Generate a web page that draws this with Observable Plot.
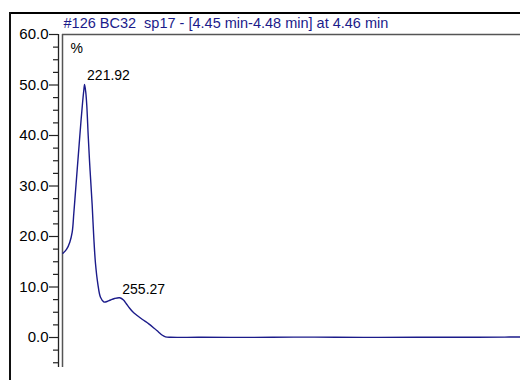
<!DOCTYPE html>
<html>
<head>
<meta charset="utf-8">
<script src="https://cdn.jsdelivr.net/npm/d3@7"></script>
<script src="https://cdn.jsdelivr.net/npm/@observablehq/plot@0.6"></script>
<style>
  html, body { margin: 0; padding: 0; background: #fff; }
  #wrap { position: relative; width: 520px; height: 380px; overflow: hidden; }
  #wrap svg { position: absolute; left: 0; top: 0; }
  .frameTop { position: absolute; left: 9px; top: 12px; width: 511px; height: 2px; background: #000; }
  .frameLeft { position: absolute; left: 9px; top: 12px; width: 2px; height: 368px; background: #111; }
</style>
</head>
<body>
<div id="wrap">
  <div class="frameTop"></div>
  <div class="frameLeft"></div>
</div>
<script>
const title = "#126 BC32  sp17 - [4.45 min-4.48 min] at 4.46 min";
const yUnit = "%";

const wavelength = [201.47, 204.79, 207.92, 210.19, 211.71, 213.32, 214.93, 216.63, 218.34, 219.95, 221.18, 221.92, 223.07, 224.02, 225.35, 226.58, 227.72, 229.14, 230.65, 232.26, 234.44, 237.0, 240.32, 243.16, 246.48, 250.27, 255.27, 258.79, 261.63, 264.48, 267.79, 271.77, 276.79, 282.76, 288.16, 291.95, 295.27, 298.58, 303.3, 330, 360, 400, 430, 460, 500, 540, 580, 620, 635];
const absorbance = [16.67, 17.43, 18.87, 20.85, 24.55, 28.91, 33.27, 37.82, 42.38, 46.34, 48.91, 50.1, 48.51, 45.94, 40.0, 35.05, 31.09, 26.14, 19.8, 14.65, 10.69, 7.98, 7.03, 7.13, 7.43, 7.72, 7.86, 7.43, 6.63, 5.84, 5.05, 4.36, 3.56, 2.71, 1.78, 1.09, 0.5, 0.14, 0.04, 0.05, 0.02, 0.04, 0.08, 0.05, 0.03, 0.05, 0.05, 0.08, 0.1];

const peakWavelength = [221.92, 255.27];
const peakValue = [50.1, 7.86];
const peakLabel = ["221.92", "255.27"];

const majorTicks = [0, 10, 20, 30, 40, 50, 60];
const minorTicks = [-5, -2.5, 2.5, 5, 7.5, 12.5, 15, 17.5, 22.5, 25, 27.5, 32.5, 35, 37.5, 42.5, 45, 47.5, 52.5, 55, 57.5];

const xDomain = [201, 635];
const yDomain = [-5.94, 60];

const spectrum = wavelength.map((w, i) => ({w, v: absorbance[i]}));
const peaks = peakWavelength.map((w, i) => ({w, v: peakValue[i], label: peakLabel[i]}));

const navy = "#1b1b8a";
const font = "'Liberation Sans', Arial, sans-serif";

const chart = Plot.plot({
  width: 520,
  height: 380,
  marginLeft: 62,
  marginRight: 0,
  marginTop: 34,
  marginBottom: 13,
  style: {fontFamily: font, background: "transparent", overflow: "visible"},
  x: {domain: xDomain, axis: null, label: null},
  y: {domain: yDomain, axis: null, label: null},
  marks: [
    Plot.ruleY([yDomain[1]], {stroke: "#555", strokeWidth: 1.3}),
    Plot.ruleX([xDomain[0]], {stroke: "#555", strokeWidth: 1.5}),
    Plot.ruleX([xDomain[0]], {stroke: "#222", strokeWidth: 1.3, dx: -4}),
    Plot.axisY({ticks: majorTicks, tickFormat: d => d.toFixed(1), label: null, tickSize: 9, tickPadding: 1, dx: -4, fontSize: 15, fill: "#000", stroke: "#222", strokeWidth: 1.2}),
    Plot.axisY({ticks: minorTicks, text: null, label: null, tickSize: 5, dx: -4, stroke: "#222", strokeWidth: 1.2}),
    Plot.line(spectrum, {x: "w", y: "v", stroke: navy, strokeWidth: 1.4, curve: "catmull-rom"}),
    Plot.text(peaks, {x: "w", y: "v", text: "label", textAnchor: "start", lineAnchor: "bottom", dx: 2.5, dy: -4, fontSize: 14, fill: "#000"}),
    Plot.text([title], {frameAnchor: "top-left", text: d => d, textAnchor: "start", lineAnchor: "bottom", dx: 1, dy: -6.5, fontSize: 14.5, fill: navy}),
    Plot.text([yUnit], {frameAnchor: "top-left", text: d => d, textAnchor: "start", lineAnchor: "bottom", dx: 8, dy: 18, fontSize: 14, fill: "#000"})
  ]
});
document.getElementById("wrap").appendChild(chart);
</script>
</body>
</html>
